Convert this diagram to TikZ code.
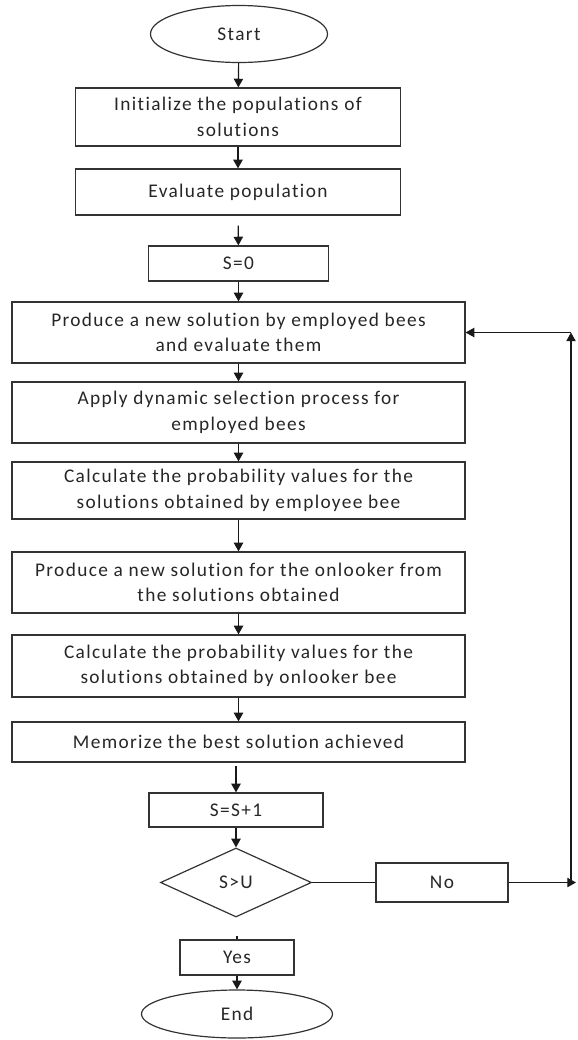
\documentclass[tikz,border=0pt]{standalone}
\usepackage{fontspec}
\setmainfont{Carlito}[Ligatures={NoCommon}, LetterSpace=7]
\usetikzlibrary{shapes.geometric,arrows.meta}
\begin{document}
\begin{tikzpicture}[x=0.75pt,y=-0.75pt,
  every node/.style={font=\fontsize{14.5}{19}\selectfont, text=black!85, align=center, inner sep=0pt},
  term/.style={ellipse, draw=black!80, line width=0.9pt},
  stepbox/.style={rectangle, draw=black!80, line width=0.9pt},
  test/.style={diamond, draw=black!80, line width=0.9pt},
  arr/.style={-{Triangle[length=6.5pt,width=7pt]}, line width=0.9pt, draw=black!90}]

\useasboundingbox (0,0) rectangle (578,1040);

\node[term, minimum width=132.75pt, minimum height=42.75pt] (start) at (239,34) {Start};

\node[stepbox, minimum width=243.75pt, minimum height=43.5pt] (init) at (238,117) {Initialize the populations of\\solutions};
\node[stepbox, minimum width=243.75pt, minimum height=34.5pt] (eval) at (238,192) {Evaluate population};

\node[stepbox, minimum width=135pt, minimum height=26.25pt] (s0) at (238.5,263.5) {S=0};

\node[stepbox, minimum width=339.75pt, minimum height=45.75pt] (empl) at (238.5,332.5) {Produce a new solution by employed bees\\and evaluate them};
\node[stepbox, minimum width=339.75pt, minimum height=45.75pt] (sel) at (238.5,412.5) {Apply dynamic selection process for\\employed bees};
\node[stepbox, minimum width=339.75pt, minimum height=42.75pt] (probe) at (238.5,490.5) {Calculate the probability values for the\\solutions obtained by employee bee};
\node[stepbox, minimum width=339.75pt, minimum height=45.75pt] (onl) at (238.5,582.5) {Produce a new solution for the onlooker from\\the solutions obtained};
\node[stepbox, minimum width=339.75pt, minimum height=46.5pt] (probo) at (238.5,666) {Calculate the probability values for the\\solutions obtained by onlooker bee};
\node[stepbox, minimum width=339.75pt, minimum height=30pt] (mem) at (238.5,742) {Memorize the best solution achieved};

\node[stepbox, minimum width=130.5pt, minimum height=25.5pt] (inc) at (236,810) {S=S+1};
\node[test, minimum width=113.25pt, minimum height=51.75pt] (dec) at (236,882.5) {S>U};

\node[stepbox, minimum width=99pt, minimum height=29.25pt] (no) at (442,882.5) {No};
\node[stepbox, minimum width=85.5pt, minimum height=26.25pt] (yes) at (237,957.5) {Yes};
\node[term, minimum width=143.25pt, minimum height=36pt] (end) at (237,1014) {End};

\coordinate (tick) at (237,936);
\coordinate (back) at (576,882.5);
\coordinate (corner) at (571,882.5);
\coordinate (top) at (571,332.5);

\draw[arr] (start) -- (init);
\draw[arr] (init) -- (eval);
\draw[arr, shorten <=7.5pt] (eval) -- (s0);
\draw[arr] (s0) -- (empl);
\draw[arr] (empl) -- (sel);
\draw[arr] (sel) -- (probe);
\draw[arr] (probe) -- (onl);
\draw[arr] (onl) -- (probo);
\draw[arr] (probo) -- (mem);
\draw[arr, shorten <=2.25pt] (mem.south -| inc.north) -- (inc);
\draw[arr] (inc) -- (dec);

\draw[line width=0.9pt, draw=black!90] (dec.east) -- (no.west);
\draw[arr] (no.east) -- (back);
\draw[arr] (corner) -- (top);
\draw[arr] (top) -- (empl.east);

\draw[line width=0.9pt, draw=black!90] (tick) -- (yes.north);
\draw[arr] (yes) -- (end);

\end{tikzpicture}
\end{document}
